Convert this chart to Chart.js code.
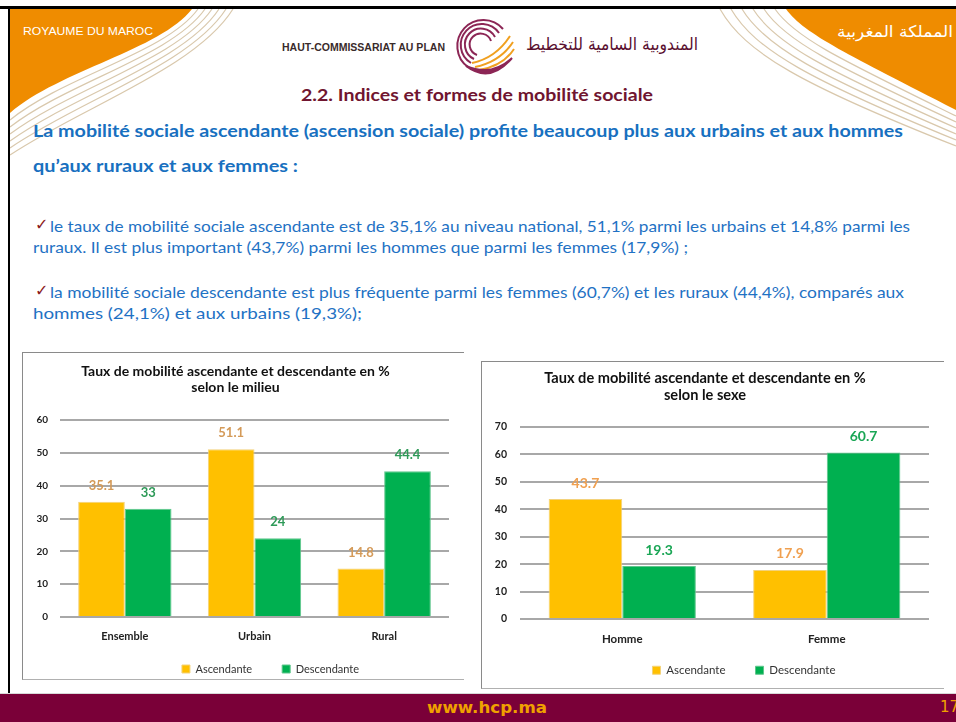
<!DOCTYPE html>
<html><head><meta charset="utf-8">
<script src="https://cdn.jsdelivr.net/npm/chart.js@4.4.1/dist/chart.umd.min.js"></script>
<style>
html,body{margin:0;padding:0;background:#fff;}
body{width:956px;height:722px;position:relative;overflow:hidden;font-family:Lato,sans-serif;}
.t{position:absolute;white-space:nowrap;transform-origin:0 50%;line-height:1;}
.hb{color:#1870c0;font-weight:bold;font-size:17px;}
.bd{color:#1f72c4;font-size:16px;}
.ck{color:#8b1a1a;font-size:16px;font-weight:bold;position:absolute;line-height:1;font-family:'DejaVu Sans';}
.box{position:absolute;border-top:1px solid #8a8a8a;border-left:1px solid #8a8a8a;border-bottom:1px solid #b0b0b0;}
canvas{position:absolute;}
#footer{position:absolute;left:0;top:693px;width:956px;height:29px;background:#7a0038;border-top:1px solid #d8d8d8;}
</style></head><body>
<svg width="956" height="722" style="position:absolute;left:0;top:0">
  <path d="M10 9 H192 C160 50 60 70 10 113 Z" fill="#ef8c00"/>
  <g fill="none" stroke="#d9c8ac" stroke-width="1.2">
    <path d="M198 9 C166 53 64 76 10 120"/>
    <path d="M205 9 C172 56 68 82 10 127"/>
    <path d="M212 9 C178 59 72 88 10 134"/>
    <path d="M219 9 C184 62 76 94 10 141"/>
    <path d="M226 9 C190 65 80 100 10 148"/>
    <path d="M233 9 C196 68 84 106 10 155"/>
  </g>
  <path d="M786 9 H956 V110 C850 55 805 35 786 9 Z" fill="#ef8c00"/>
  <g fill="none" stroke="#d9c8ac" stroke-width="1.2">
    <path d="M775 9 C795 38 842 60 956 116"/>
    <path d="M764 9 C785 41 834 65 956 122"/>
    <path d="M753 9 C775 44 826 70 956 128"/>
    <path d="M742 9 C765 47 818 75 956 134"/>
    <path d="M731 9 C755 50 810 80 956 140"/>
    <path d="M720 9 C745 53 802 85 956 146"/>
  </g>
  <rect x="0" y="6" width="956" height="3" fill="#000"/>
  <rect x="8" y="6" width="2" height="687" fill="#000"/>
  <g fill="none" stroke="#8c2655" stroke-width="2">
    <path d="M503 29 A26 26 0 1 0 468 67"/>
    <path d="M499 33 A21 21 0 1 0 471 63"/>
    <path d="M495 37 A16 16 0 1 0 474 59"/>
    <path d="M491 41 A11 11 0 1 0 477 55"/>
  </g>
  <g fill="none" stroke="#f0a020" stroke-width="2">
    <path d="M472 63 Q496 58 510 36"/>
    <path d="M475 67 Q500 62 513 42"/>
    <path d="M479 70 Q503 66 514 49"/>
  </g>
  <path d="M466 66 Q490 84 512 58 Q492 77 466 66 Z" fill="#8c2655" stroke="#8c2655" stroke-width="2"/>
</svg>

<div class="t" data-w="130" style="left:23px;top:26px;font-family:'Liberation Sans';font-size:11px;color:#fff;">ROYAUME DU MAROC</div>
<div class="t" data-w="116" dir="rtl" style="left:837px;top:24px;font-family:'DejaVu Sans';font-size:16px;color:#fff;">المملكة المغربية</div>
<div class="t" data-w="163" style="left:282px;top:43px;font-family:'Liberation Sans';font-size:10px;font-weight:bold;color:#3a2b2b;">HAUT-COMMISSARIAT AU PLAN</div>
<div class="t" data-w="172" dir="rtl" style="left:526px;top:36px;font-family:'DejaVu Sans';font-size:17px;color:#5a1030;">المندوبية السامية للتخطيط</div>
<div class="t" data-w="352" style="left:301px;top:86px;font-weight:bold;font-size:17px;color:#701530;">2.2. Indices et formes de mobilité sociale</div>

<div class="t hb" data-w="870" style="left:33px;top:122px;">La mobilité sociale ascendante (ascension sociale) profite beaucoup plus aux urbains et aux hommes</div>
<div class="t hb" data-w="265" style="left:33px;top:157px;">qu’aux ruraux et aux femmes :</div>

<div class="ck" style="left:35px;top:217px;">✓</div>
<div class="t bd" data-w="860" style="left:50px;top:218px;">le taux de mobilité sociale ascendante est de 35,1% au niveau national, 51,1% parmi les urbains et 14,8% parmi les</div>
<div class="t bd" data-w="655" style="left:33px;top:239px;">ruraux. Il est plus important (43,7%) parmi les hommes que parmi les femmes (17,9%) ;</div>
<div class="ck" style="left:35px;top:283px;">✓</div>
<div class="t bd" data-w="854" style="left:50px;top:284px;">la mobilité sociale descendante est plus fréquente parmi les femmes (60,7%) et les ruraux (44,4%), comparés aux</div>
<div class="t bd" data-w="329" style="left:33px;top:305px;">hommes (24,1%) et aux urbains (19,3%);</div>

<div class="box" style="left:22px;top:352px;width:441px;height:326px;"></div>
<div class="box" style="left:481px;top:361px;width:462px;height:326px;"></div>
<canvas id="c1" width="441" height="326" style="left:22px;top:352px;"></canvas>
<canvas id="c2" width="462" height="326" style="left:481px;top:361px;"></canvas>

<div id="footer"></div>
<div class="t" data-w="120" style="left:427px;top:700px;font-family:'DejaVu Sans';font-weight:bold;font-size:16px;color:#f0a000;">www.hcp.ma</div>
<div class="t" style="left:940px;top:700px;font-family:'DejaVu Sans';font-size:15px;color:#f0a000;">17</div>

<script>
// ---- data ----
const seriesNames = ['Ascendante', 'Descendante'];
const milieuCategories = ['Ensemble', 'Urbain', 'Rural'];
const milieuAscendante = [35.1, 51.1, 14.8];
const milieuDescendante = [33, 24, 44.4];
const milieuTicks = [0, 10, 20, 30, 40, 50, 60];
const sexeCategories = ['Homme', 'Femme'];
const sexeAscendante = [43.7, 17.9];
const sexeDescendante = [19.3, 60.7];
const sexeTicks = [0, 10, 20, 30, 40, 50, 60, 70];
const milieuTitle = ['Taux de mobilité ascendante et descendante en %', 'selon le milieu'];
const sexeTitle = ['Taux de mobilité ascendante et descendante en %', 'selon le sexe'];

document.querySelectorAll('.t[data-w]').forEach(el => {
  const w = el.getBoundingClientRect().width;
  const target = +el.dataset.w;
  if (w > 0) el.style.transform = 'scaleX(' + (target / w) + ')';
});

const valueLabels = {
  id: 'valueLabels',
  afterDatasetsDraw(chart, args, opts) {
    const ctx = chart.ctx;
    ctx.save();
    ctx.font = 'bold ' + opts.size + 'px Lato';
    ctx.textAlign = 'center';
    ctx.textBaseline = 'middle';
    chart.data.datasets.forEach((ds, i) => {
      const meta = chart.getDatasetMeta(i);
      meta.data.forEach((bar, j) => {
        ctx.fillStyle = opts.colors[i];
        ctx.fillText(String(ds.data[j]), bar.x, bar.y - opts.offset);
      });
    });
    ctx.restore();
  }
};
// legend keeps its layout slot but its box is stretched upward so the padded row sits lower
const legendShift = {
  id: 'legendShift',
  afterLayout(chart, args, opts) {
    const lg = chart.legend;
    if (lg) {
      lg.left += opts.dx; lg.right += opts.dx;
      lg.top -= opts.up; lg.height = lg.bottom - lg.top;
    }
  }
};

function buildChart(id, cats, asc, desc, ticks, title, g) {
  return new Chart(document.getElementById(id), {
    type: 'bar',
    data: {
      labels: cats,
      datasets: [
        { label: seriesNames[0], data: asc, backgroundColor: '#ffc000', borderColor: '#f3d27a', borderWidth: 1 },
        { label: seriesNames[1], data: desc, backgroundColor: '#00b050', borderColor: '#5fc68c', borderWidth: 1 }
      ]
    },
    options: {
      responsive: false, animation: false, devicePixelRatio: 1,
      layout: { padding: { left: 0, right: g.padRight, top: 0, bottom: 0 } },
      datasets: { bar: { categoryPercentage: 0.72, barPercentage: 1 } },
      scales: {
        x: {
          grid: { display: false, drawTicks: false }, border: { display: false },
          ticks: { autoSkip: false, maxRotation: 0, font: { family: 'Lato', size: g.fs + 1, weight: 'bold' }, color: '#222', padding: g.xPad },
          afterFit: s => { s.height = g.xH; }
        },
        y: {
          min: ticks[0], max: ticks[ticks.length - 1],
          afterBuildTicks: s => { s.ticks = ticks.map(v => ({ value: v })); },
          grid: { color: '#a8a8a8', lineWidth: 2, drawTicks: false },
          border: { display: false },
          ticks: { font: { family: 'Lato', size: g.fs, weight: 'bold' }, color: '#222', padding: g.yPad },
          afterFit: s => { s.width = g.yW; }
        }
      },
      plugins: {
        title: { display: true, text: title, color: '#111',
          font: { family: 'Lato', size: g.tfs, weight: 'bold', lineHeight: 1.15 },
          padding: { top: g.tTop, bottom: g.tBot } },
        legend: { position: 'bottom', maxHeight: g.legH,
          labels: { boxWidth: 8, boxHeight: 8, padding: 30, color: '#333',
            font: { family: 'Lato', size: g.lfs } } },
        tooltip: { enabled: false },
        valueLabels: { colors: g.labelColors, size: g.vfs, offset: 16 },
        legendShift: { dx: g.legDx, up: g.legUp }
      }
    },
    plugins: [valueLabels, legendShift]
  });
}

buildChart('c1', milieuCategories, milieuAscendante, milieuDescendante, milieuTicks, milieuTitle,
  { padRight: 14, fs: 10, xPad: 13, xH: 30, yPad: 12, yW: 38, tfs: 14, tTop: 11, tBot: 24.8,
    legH: 31, lfs: 11, vfs: 13, labelColors: ['#d49a58', '#2e9a58'], legDx: 35, legUp: 13.5 });
buildChart('c2', sexeCategories, sexeAscendante, sexeDescendante, sexeTicks, sexeTitle,
  { padRight: 14, fs: 10.5, xPad: 13, xH: 30, yPad: 13, yW: 39, tfs: 14.6, tTop: 9, tBot: 23.4,
    legH: 38, lfs: 11.5, vfs: 14, labelColors: ['#f0a050', '#1aa655'], legDx: 39, legUp: 14.5 });
</script>
</body></html>
